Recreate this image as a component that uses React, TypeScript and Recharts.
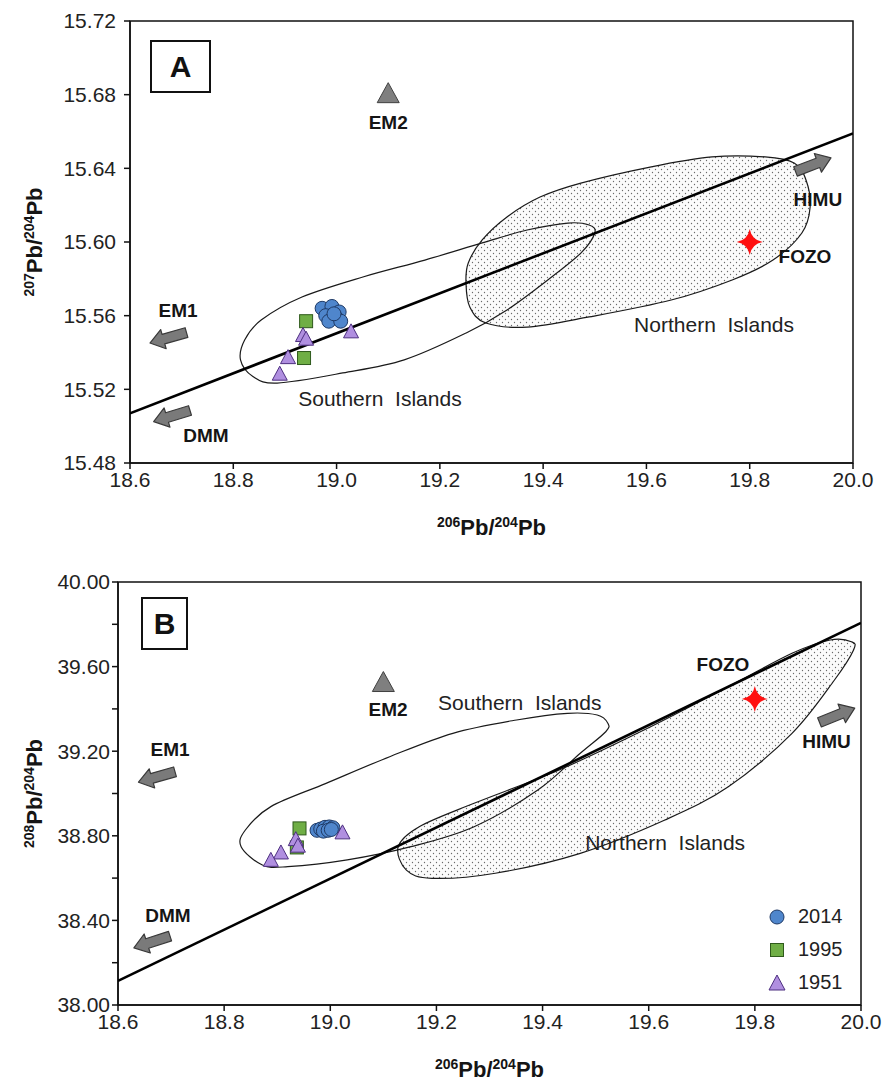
import React from 'react';
import { ScatterChart, Scatter, XAxis, YAxis, ReferenceArea, Legend } from 'recharts';

const FONT = '"Liberation Sans", Arial, Helvetica, sans-serif';

// ---------- shared ----------
const xTicks = [18.6, 18.8, 19.0, 19.2, 19.4, 19.6, 19.8, 20.0];
const seriesNames = ['2014', '1995', '1951'];

// ---------- Panel A : 207Pb/204Pb ----------
const aYTicks = [15.48, 15.52, 15.56, 15.6, 15.64, 15.68, 15.72];
const a2014 = [
  { x: 18.972, y: 15.564 }, { x: 18.991, y: 15.565 }, { x: 19.005, y: 15.562 }, { x: 18.979, y: 15.56 },
  { x: 18.999, y: 15.559 }, { x: 18.985, y: 15.557 }, { x: 19.008, y: 15.557 }, { x: 18.995, y: 15.561 },
];
const a1995 = [{ x: 18.941, y: 15.557 }, { x: 18.937, y: 15.537 }];
const a1951 = [
  { x: 18.935, y: 15.549 }, { x: 18.941, y: 15.547 }, { x: 18.906, y: 15.537 }, { x: 18.89, y: 15.528 }, { x: 19.028, y: 15.551 },
];
const aEM2 = [{ x: 19.1, y: 15.68 }];
const aFOZO = [{ x: 19.8, y: 15.6 }];
const aNHRL = [{ x: 18.6, y: 15.507 }, { x: 20.0, y: 15.659 }];
const aSouthern = [
  { x: 18.814, y: 15.536 }, { x: 18.838, y: 15.527 }, { x: 18.885, y: 15.5234 }, { x: 19.012, y: 15.5289 },
  { x: 19.131, y: 15.536 }, { x: 19.251, y: 15.5506 }, { x: 19.33, y: 15.5631 }, { x: 19.409, y: 15.5794 },
  { x: 19.473, y: 15.594 }, { x: 19.5, y: 15.6049 }, { x: 19.489, y: 15.6092 }, { x: 19.448, y: 15.6103 },
  { x: 19.369, y: 15.6065 }, { x: 19.282, y: 15.5995 }, { x: 19.171, y: 15.5902 }, { x: 19.051, y: 15.581 },
  { x: 18.933, y: 15.5701 }, { x: 18.854, y: 15.5576 }, { x: 18.822, y: 15.5468 },
];
const aNorthern = [
  { x: 19.2506, y: 15.5777 }, { x: 19.258, y: 15.5647 }, { x: 19.289, y: 15.556 }, { x: 19.369, y: 15.5538 },
  { x: 19.489, y: 15.5593 }, { x: 19.648, y: 15.5685 }, { x: 19.766, y: 15.5794 }, { x: 19.845, y: 15.5902 },
  { x: 19.901, y: 15.6049 }, { x: 19.917, y: 15.619 }, { x: 19.909, y: 15.6337 }, { x: 19.886, y: 15.6429 },
  { x: 19.83, y: 15.6462 }, { x: 19.727, y: 15.6462 }, { x: 19.607, y: 15.6407 }, { x: 19.473, y: 15.632 },
  { x: 19.394, y: 15.6244 }, { x: 19.33, y: 15.6136 }, { x: 19.282, y: 15.6011 }, { x: 19.255, y: 15.5886 },
];
const aArrows = [
  { x: 18.674, y: 15.548, dir: 164 },
  { x: 18.681, y: 15.5055, dir: 163 },
  { x: 19.923, y: 15.642, dir: -21 },
];
const aMemberLabels = [
  { x: 19.1, y: 15.665, text: 'EM2' },
  { x: 18.693, y: 15.563, text: 'EM1' },
  { x: 18.747, y: 15.495, text: 'DMM' },
  { x: 19.932, y: 15.623, text: 'HIMU' },
  { x: 19.907, y: 15.592, text: 'FOZO' },
];
const aRegionLabels = [
  { x: 19.084, y: 15.515, text: 'Southern\u00a0\u00a0Islands' },
  { x: 19.731, y: 15.555, text: 'Northern\u00a0\u00a0Islands' },
];

// ---------- Panel B : 208Pb/204Pb ----------
const bYTicks = [38.0, 38.2, 38.4, 38.6, 38.8, 39.0, 39.2, 39.4, 39.6, 39.8, 40.0];
const b2014 = [
  { x: 18.975, y: 38.826 }, { x: 18.982, y: 38.832 }, { x: 18.99, y: 38.84 }, { x: 18.998, y: 38.842 },
  { x: 19.005, y: 38.838 }, { x: 18.987, y: 38.822 }, { x: 18.996, y: 38.826 }, { x: 19.002, y: 38.83 },
];
const b1995 = [{ x: 18.942, y: 38.835 }, { x: 18.937, y: 38.745 }];
const b1951 = [
  { x: 18.935, y: 38.78 }, { x: 18.939, y: 38.749 }, { x: 18.907, y: 38.717 }, { x: 18.888, y: 38.682 }, { x: 19.023, y: 38.812 },
];
const bEM2 = [{ x: 19.1, y: 39.52 }];
const bFOZO = [{ x: 19.8, y: 39.447 }];
const bNHRL = [{ x: 18.6, y: 38.114 }, { x: 20.0, y: 39.807 }];
const bSouthern = [
  { x: 18.832, y: 38.7485 }, { x: 18.872, y: 38.662 }, { x: 18.92, y: 38.654 }, { x: 19.032, y: 38.686 },
  { x: 19.152, y: 38.7485 }, { x: 19.271, y: 38.843 }, { x: 19.391, y: 39.0166 }, { x: 19.471, y: 39.19 },
  { x: 19.519, y: 39.292 }, { x: 19.523, y: 39.332 }, { x: 19.503, y: 39.371 }, { x: 19.447, y: 39.379 },
  { x: 19.351, y: 39.3475 }, { x: 19.231, y: 39.2846 }, { x: 19.112, y: 39.174 }, { x: 18.992, y: 39.048 },
  { x: 18.888, y: 38.938 }, { x: 18.84, y: 38.8274 },
];
const bNorthern = [
  { x: 19.128, y: 38.7485 }, { x: 19.1434, y: 38.638 }, { x: 19.1915, y: 38.599 }, { x: 19.311, y: 38.623 },
  { x: 19.471, y: 38.717 }, { x: 19.6305, y: 38.8747 }, { x: 19.75, y: 39.032 }, { x: 19.87, y: 39.2846 },
  { x: 19.95, y: 39.5367 }, { x: 19.986, y: 39.6785 }, { x: 19.982, y: 39.7177 }, { x: 19.942, y: 39.7258 },
  { x: 19.87, y: 39.6629 }, { x: 19.75, y: 39.505 }, { x: 19.591, y: 39.3002 }, { x: 19.431, y: 39.111 },
  { x: 19.271, y: 38.9537 }, { x: 19.1676, y: 38.843 },
];
const bArrows = [
  { x: 18.673, y: 39.078, dir: 164 },
  { x: 18.664, y: 38.298, dir: 162 },
  { x: 19.955, y: 39.37, dir: -22 },
];
const bMemberLabels = [
  { x: 19.109, y: 39.395, text: 'EM2' },
  { x: 18.698, y: 39.206, text: 'EM1' },
  { x: 18.694, y: 38.421, text: 'DMM' },
  { x: 19.935, y: 39.245, text: 'HIMU' },
  { x: 19.74, y: 39.608, text: 'FOZO' },
];
const bRegionLabels = [
  { x: 19.357, y: 39.428, text: 'Southern\u00a0\u00a0Islands' },
  { x: 19.631, y: 38.766, text: 'Northern\u00a0\u00a0Islands' },
];

// ---------- styles ----------
const COLORS: Record<string, { fill: string; stroke: string }> = {
  '2014': { fill: '#4f86cc', stroke: '#1f3a66' },
  '1995': { fill: '#6fae45', stroke: '#2f5a1c' },
  '1951': { fill: '#b08fe0', stroke: '#4d2f80' },
};

const Nothing = () => <g />;

const CircleShape = (p: any) => (
  <circle cx={p.cx} cy={p.cy} r={7} fill={COLORS['2014'].fill} stroke={COLORS['2014'].stroke} strokeWidth={1} />
);
const SquareShape = (p: any) => (
  <rect x={p.cx - 6.5} y={p.cy - 6.5} width={13} height={13} fill={COLORS['1995'].fill} stroke={COLORS['1995'].stroke} strokeWidth={1} />
);
const triPath = (cx: number, cy: number, w: number, h: number) =>
  `M${cx},${cy - h * 0.6} L${cx + w / 2},${cy + h * 0.4} L${cx - w / 2},${cy + h * 0.4} Z`;
const TriangleShape = (p: any) => (
  <path d={triPath(p.cx, p.cy, 15, 14)} fill={COLORS['1951'].fill} stroke={COLORS['1951'].stroke} strokeWidth={1} strokeLinejoin="round" />
);
const EM2Shape = (p: any) => (
  <path d={triPath(p.cx, p.cy, 22, 20)} fill="#7f7f7f" stroke="#404040" strokeWidth={1} strokeLinejoin="round" />
);
const StarShape = (p: any) => {
  const { cx, cy } = p;
  const r = 13, q = 2.0;
  return (
    <path
      d={`M${cx - r},${cy} Q${cx - q},${cy - q} ${cx},${cy - r} Q${cx + q},${cy - q} ${cx + r},${cy} Q${cx + q},${cy + q} ${cx},${cy + r} Q${cx - q},${cy + q} ${cx - r},${cy} Z`}
      fill="#ff1010"
    />
  );
};
const ArrowShape = (p: any) => (
  <g transform={`translate(${p.cx},${p.cy}) rotate(${p.payload.dir})`}>
    <path d="M-19,-5 L5,-5 L5,-10 L19,0 L5,10 L5,5 L-19,5 Z" fill="#7a7a7a" stroke="#3a3a3a" strokeWidth={1.2} strokeLinejoin="round" />
  </g>
);
const MemberText = (p: any) => (
  <text x={p.cx} y={p.cy} textAnchor="middle" dominantBaseline="central" fontFamily={FONT} fontSize={19} fontWeight={700} fill="#151515">
    {p.payload.text}
  </text>
);
const RegionText = (p: any) => (
  <text x={p.cx} y={p.cy} textAnchor="middle" dominantBaseline="central" fontFamily={FONT} fontSize={21} fill="#222">
    {p.payload.text}
  </text>
);

const closedPath = (pts: { x: number; y: number }[]) => {
  const n = pts.length;
  let d = `M${pts[0].x},${pts[0].y}`;
  for (let i = 0; i < n; i++) {
    const p0 = pts[(i - 1 + n) % n], p1 = pts[i], p2 = pts[(i + 1) % n], p3 = pts[(i + 2) % n];
    const c1x = p1.x + (p2.x - p0.x) / 6, c1y = p1.y + (p2.y - p0.y) / 6;
    const c2x = p2.x - (p3.x - p1.x) / 6, c2y = p2.y - (p3.y - p1.y) / 6;
    d += ` C${c1x},${c1y} ${c2x},${c2y} ${p2.x},${p2.y}`;
  }
  return d + ' Z';
};

const envelope = (patternId: string | null) => (props: any) => {
  const pts = (props.points || []).filter((p: any) => p && Number.isFinite(p.x) && Number.isFinite(p.y));
  if (pts.length < 3) return <g />;
  return (
    <g>
      {patternId && (
        <defs>
          <pattern id={patternId} width={6} height={6} patternUnits="userSpaceOnUse">
            <rect width={6} height={6} fill="#fbfbfb" />
            <circle cx={1.5} cy={1.5} r={0.65} fill="#6a6a6a" />
            <circle cx={4.5} cy={4.5} r={0.65} fill="#6a6a6a" />
          </pattern>
        </defs>
      )}
      <path d={closedPath(pts)} fill={patternId ? `url(#${patternId})` : 'none'} stroke="#1a1a1a" strokeWidth={1.2} />
    </g>
  );
};

const PbTitle = ({ x, y, top, vertical }: { x: number; y: number; top: string; vertical?: boolean }) => (
  <text x={x} y={y} textAnchor="middle" fontFamily={FONT} fontWeight={700} fill="#151515" transform={vertical ? `rotate(-90 ${x} ${y})` : undefined}>
    <tspan fontSize={14}>{top}</tspan>
    <tspan fontSize={22} dy={8}>Pb/</tspan>
    <tspan fontSize={14} dy={-8}>204</tspan>
    <tspan fontSize={22} dy={8}>Pb</tspan>
  </text>
);

const tickStyle = { fontSize: 21, fill: '#222', fontFamily: FONT };
const axisStroke = { stroke: '#111', strokeWidth: 1.5 };

const LegendContent = (props: any) => {
  const items = seriesNames.filter((n) => (props.payload || []).some((e: any) => String(e.value) === n));
  return (
    <div style={{ fontFamily: FONT }}>
      {items.map((name) => {
        const c = COLORS[name];
        return (
          <div key={name} style={{ display: 'flex', alignItems: 'center', height: 33 }}>
            <svg width={22} height={22} style={{ marginRight: 10 }}>
              {name === '2014' && <circle cx={11} cy={11} r={7} fill={c.fill} stroke={c.stroke} />}
              {name === '1995' && <rect x={4.5} y={4.5} width={13} height={13} fill={c.fill} stroke={c.stroke} />}
              {name === '1951' && <path d={triPath(11, 12, 16, 15)} fill={c.fill} stroke={c.stroke} />}
            </svg>
            <span style={{ fontSize: 20, color: '#222' }}>{name}</span>
          </div>
        );
      })}
    </div>
  );
};

type PanelProps = {
  top: number;
  height: number;
  margin: { top: number; right: number; left: number; bottom: number };
  yWidth: number;
  xHeight: number;
  yDomain: [number, number];
  yTicks: number[];
  yFormat: (v: number) => string;
  yTitleTop: string;
  yTickMargin: number;
  d2014: any[]; d1995: any[]; d1951: any[];
  em2: any[]; fozo: any[]; nhrl: any[];
  southern: any[]; northern: any[];
  arrows: any[]; members: any[]; regions: any[];
  pid: string;
  legend?: boolean;
};

const Panel = (p: PanelProps) => (
  <div style={{ position: 'absolute', left: 0, top: p.top }}>
    <ScatterChart width={882} height={p.height} margin={p.margin}>
      <XAxis
        type="number" dataKey="x" domain={[18.6, 20.0]} ticks={xTicks} interval={0} allowDataOverflow
        tickFormatter={(v: number) => v.toFixed(1)} tick={tickStyle} axisLine={axisStroke} tickLine={axisStroke}
        tickSize={6} tickMargin={3} height={p.xHeight}
        label={(lp: any) => {
          const vb = lp.viewBox || { x: 0, y: 0, width: 0, height: 0 };
          return <PbTitle x={vb.x + vb.width / 2} y={vb.y + 64} top="206" />;
        }}
      />
      <YAxis
        type="number" dataKey="y" domain={p.yDomain} ticks={p.yTicks} interval={0} allowDataOverflow
        tickFormatter={p.yFormat} tick={tickStyle} axisLine={axisStroke} tickLine={axisStroke}
        tickSize={6} tickMargin={p.yTickMargin} width={p.yWidth}
        label={(lp: any) => {
          const vb = lp.viewBox || { x: 0, y: 0, width: 0, height: 0 };
          return <PbTitle x={34} y={vb.y + vb.height / 2} top={p.yTitleTop} vertical />;
        }}
      />
      <ReferenceArea x1={18.6} x2={20.0} y1={p.yDomain[0]} y2={p.yDomain[1]} fill="none" stroke="#111" strokeWidth={1.5} ifOverflow="visible" />
      <Scatter data={p.northern} legendType="none" line={envelope(p.pid)} shape={Nothing} isAnimationActive={false} />
      <Scatter data={p.southern} legendType="none" line={envelope(null)} shape={Nothing} isAnimationActive={false} />
      <Scatter data={p.nhrl} legendType="none" line={{ stroke: '#000', strokeWidth: 2.6 }} lineJointType="linear" shape={Nothing} isAnimationActive={false} />
      <Scatter data={p.arrows} legendType="none" shape={ArrowShape} isAnimationActive={false} />
      <Scatter data={p.em2} legendType="none" shape={EM2Shape} isAnimationActive={false} />
      <Scatter data={p.fozo} legendType="none" shape={StarShape} isAnimationActive={false} />
      <Scatter name="2014" data={p.d2014} fill={COLORS['2014'].fill} shape={CircleShape} isAnimationActive={false} />
      <Scatter name="1995" data={p.d1995} fill={COLORS['1995'].fill} shape={SquareShape} isAnimationActive={false} />
      <Scatter name="1951" data={p.d1951} fill={COLORS['1951'].fill} shape={TriangleShape} isAnimationActive={false} />
      <Scatter data={p.members} legendType="none" shape={MemberText} isAnimationActive={false} />
      <Scatter data={p.regions} legendType="none" shape={RegionText} isAnimationActive={false} />
      {p.legend && (
        <Legend
          layout="vertical" align="center" verticalAlign="middle" content={LegendContent}
          wrapperStyle={{ position: 'absolute', left: 766, top: 360, width: 100, height: 100 }}
        />
      )}
    </ScatterChart>
  </div>
);

const PanelTag = ({ letter, left, top, width, height }: { letter: string; left: number; top: number; width: number; height: number }) => (
  <div
    style={{
      position: 'absolute', left, top, width, height, boxSizing: 'border-box', border: '2px solid #111',
      display: 'flex', alignItems: 'center', justifyContent: 'center', fontFamily: FONT, fontWeight: 700,
      fontSize: 30, color: '#111', background: '#fff',
    }}
  >
    {letter}
  </div>
);

export default function App() {
  return (
    <div style={{ position: 'absolute', left: 0, top: 0, width: 882, height: 1084, background: '#fff', overflow: 'hidden' }}>
      <Panel
        top={0} height={540} margin={{ top: 21, right: 29, left: 0, bottom: 0 }} yWidth={130} xHeight={77}
        yDomain={[15.48, 15.72]} yTicks={aYTicks} yFormat={(v) => v.toFixed(2)} yTitleTop="207" yTickMargin={8}
        d2014={a2014} d1995={a1995} d1951={a1951} em2={aEM2} fozo={aFOZO} nhrl={aNHRL}
        southern={aSouthern} northern={aNorthern} arrows={aArrows} members={aMemberLabels} regions={aRegionLabels}
        pid="dotsA"
      />
      <Panel
        top={540} height={544} margin={{ top: 42, right: 21, left: 0, bottom: 0 }} yWidth={118} xHeight={79}
        yDomain={[38.0, 40.0]} yTicks={bYTicks}
        yFormat={(v) => (Math.round(v * 100) % 40 === 0 ? v.toFixed(2) : '')} yTitleTop="208" yTickMargin={2}
        d2014={b2014} d1995={b1995} d1951={b1951} em2={bEM2} fozo={bFOZO} nhrl={bNHRL}
        southern={bSouthern} northern={bNorthern} arrows={bArrows} members={bMemberLabels} regions={bRegionLabels}
        pid="dotsB" legend
      />
      <PanelTag letter="A" left={150} top={40} width={61} height={53} />
      <PanelTag letter="B" left={141} top={597} width={47} height={53} />
    </div>
  );
}
